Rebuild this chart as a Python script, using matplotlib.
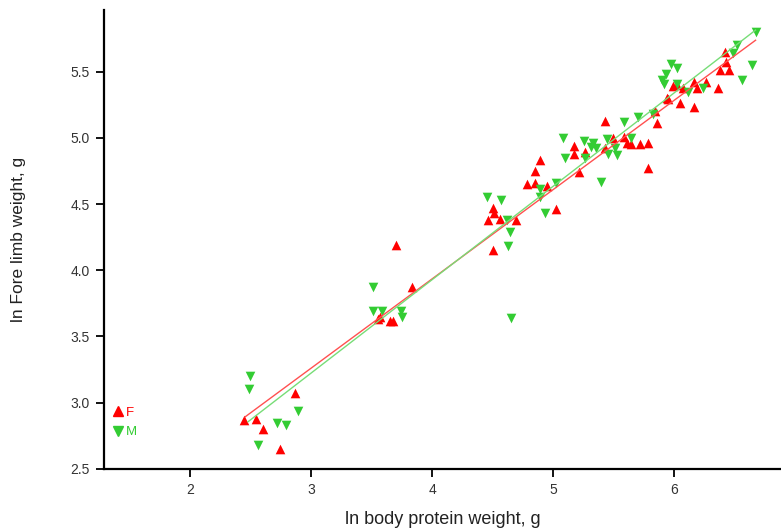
import numpy as np
import matplotlib
matplotlib.use("Agg")
import matplotlib.pyplot as plt
from matplotlib.lines import Line2D

plt.rcParams['font.family'] = ['Liberation Sans', 'DejaVu Sans']

# ln body protein weight (x) and ln fore limb weight (y), females
f_x = [2.45, 2.55, 2.60, 2.74, 2.87,
       3.70, 3.83, 3.55, 3.57, 3.65, 3.68,
       4.89, 4.85, 4.78, 4.85, 4.95, 5.02,
       4.50, 4.51, 4.46, 4.56, 4.69, 4.50,
       5.43, 5.17, 5.17, 5.26, 5.49, 5.58, 5.61, 5.64, 5.72, 5.78, 5.43, 5.21, 5.78,
       5.84, 5.86, 5.94, 6.05, 6.16,
       6.42, 6.43, 6.38, 6.45,
       5.99, 6.16, 6.26, 6.07, 6.19, 6.36, 5.95, 6.02]
f_y = [2.87, 2.88, 2.80, 2.65, 3.07,
       4.19, 3.87, 3.63, 3.65, 3.62, 3.62,
       4.83, 4.75, 4.65, 4.66, 4.64, 4.46,
       4.47, 4.43, 4.38, 4.39, 4.38, 4.15,
       5.13, 4.94, 4.88, 4.89, 5.00, 5.01, 4.96, 4.95, 4.95, 4.96, 4.92, 4.74, 4.77,
       5.20, 5.11, 5.30, 5.26, 5.23,
       5.65, 5.57, 5.51, 5.51,
       5.39, 5.42, 5.42, 5.38, 5.38, 5.38, 5.29, 5.40]

# males
m_x = [2.50, 2.49, 2.89, 2.72, 2.79, 2.56,
       3.51, 3.51, 3.59, 3.74, 3.75,
       4.45, 4.57, 4.62, 4.64, 4.63, 4.65,
       5.02, 4.89, 4.89, 4.93,
       5.58, 5.08, 5.25, 5.33, 5.31, 5.35, 5.44, 5.64, 5.45, 5.53, 5.10, 5.26, 5.39, 5.51,
       5.70, 5.82,
       6.67, 6.52, 6.48, 6.64, 6.56,
       5.97, 6.02, 5.93, 5.90, 5.91, 6.02, 6.24, 6.11]
m_y = [3.20, 3.10, 2.94, 2.85, 2.83, 2.68,
       3.87, 3.69, 3.69, 3.69, 3.65,
       4.55, 4.53, 4.38, 4.29, 4.18, 3.64,
       4.66, 4.61, 4.55, 4.43,
       5.12, 5.00, 4.98, 4.96, 4.93, 4.92, 4.99, 5.00, 4.88, 4.87, 4.85, 4.85, 4.67, 4.92,
       5.16, 5.18,
       5.80, 5.70, 5.64, 5.55, 5.44,
       5.56, 5.53, 5.48, 5.44, 5.41, 5.41, 5.38, 5.35]

# fitted lines: slope, intercept, x range
f_fit = [0.675, 1.235]
f_fit_range = [2.455, 6.67]
m_fit = [0.706, 1.105]
m_fit_range = [2.48, 6.67]

red = '#ff0000'
green = '#33cc33'

fig = plt.figure(figsize=(7.81, 5.31), dpi=100)
ax = fig.add_axes([0.133, 0.117, 0.867, 0.864])

xs = np.array(f_fit_range)
ax.plot(xs, f_fit[0] * xs + f_fit[1], color='#ff5050', lw=1.0, zorder=3)
xs = np.array(m_fit_range)
ax.plot(xs, m_fit[0] * xs + m_fit[1], color='#77dd77', lw=1.0, zorder=3)

ax.scatter(f_x, f_y, marker='^', s=48, color=red, linewidths=0, zorder=2)
ax.scatter(m_x, m_y, marker='v', s=48, color=green, linewidths=0, zorder=2)

ax.set_xlim(1.29, 6.88)
ax.set_ylim(2.5, 5.965)
ax.set_xticks([2, 3, 4, 5, 6])
ax.set_yticks([2.5, 3.0, 3.5, 4.0, 4.5, 5.0, 5.5])
ax.set_yticklabels(['2.5', '3.0', '3.5', '4.0', '4.5', '5.0', '5.5'])

for s in ['top', 'right']:
    ax.spines[s].set_visible(False)
for s in ['left', 'bottom']:
    ax.spines[s].set_linewidth(1.6)
ax.tick_params(direction='out', length=6, width=1.3, labelsize=10,
               labelcolor='#333333', pad=4)

ax.set_xlabel('ln body protein weight, g', fontsize=13, color='#222222', labelpad=10)
ax.set_ylabel('ln Fore limb weight, g', fontsize=12.5, color='#222222', labelpad=32)

handles = [Line2D([], [], marker='^', color=red, ls='none', markersize=7),
           Line2D([], [], marker='v', color=green, ls='none', markersize=7)]
leg = ax.legend(handles, ['F', 'M'], loc='upper left', bbox_to_anchor=(-0.003, 0.153),
                frameon=False, handletextpad=0.0, labelspacing=0.55, fontsize=9.5,
                handlelength=1.2, borderaxespad=0.2)
for txt, c in zip(leg.get_texts(), [red, green]):
    txt.set_color(c)

fig.savefig('out.png', dpi=100)
